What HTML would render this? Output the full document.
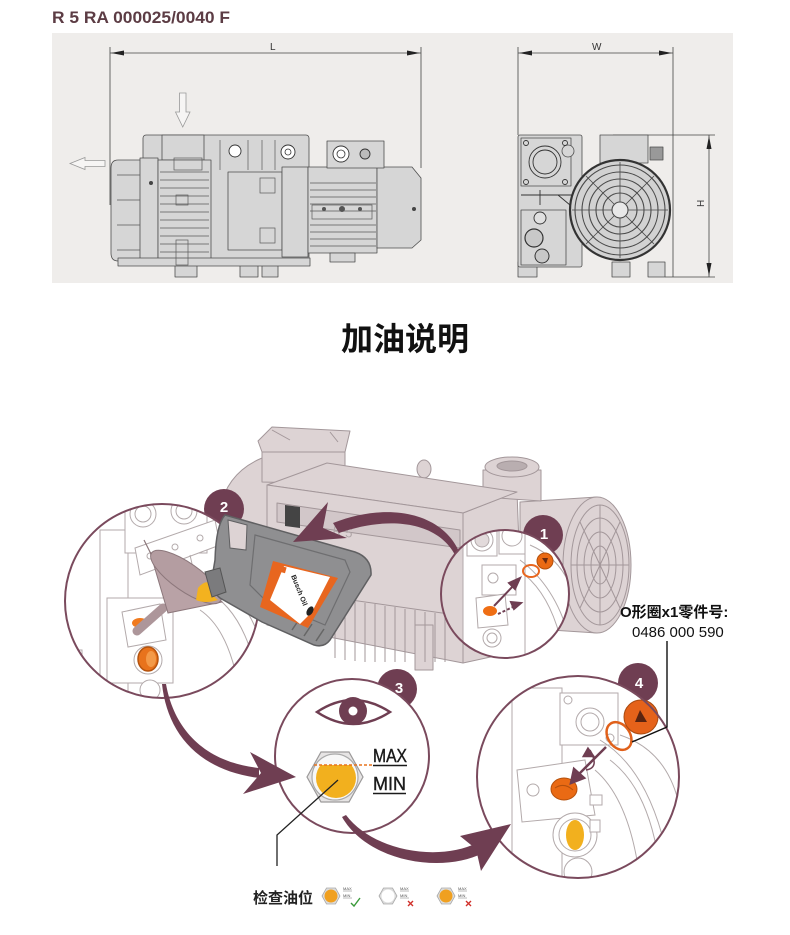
<!DOCTYPE html>
<html><head><meta charset="utf-8">
<style>
html,body{margin:0;padding:0;background:#fff;}
svg{display:block;}
text{font-family:"Liberation Sans","Noto Sans CJK SC",sans-serif;}
</style></head>
<body>
<svg width="790" height="935" viewBox="0 0 790 935" xmlns="http://www.w3.org/2000/svg">
<defs>
 <clipPath id="c2"><circle cx="162" cy="601" r="97"/></clipPath>
 <clipPath id="c1"><circle cx="505" cy="594" r="64"/></clipPath>
 <clipPath id="c3"><circle cx="352" cy="756" r="77"/></clipPath>
 <clipPath id="c4"><circle cx="578" cy="777" r="101"/></clipPath>
 <clipPath id="oilc"><rect x="300" y="765" width="80" height="60"/></clipPath>
</defs>

<!-- ===== TOP SECTION ===== -->
<text x="52" y="23" font-size="16.5" font-weight="bold" fill="#5c3c44" textLength="178" lengthAdjust="spacingAndGlyphs">R 5 RA 000025/0040 F</text>
<rect x="52" y="33" width="681" height="250" fill="#efedeb"/>

<!-- dimension lines -->
<g stroke="#444" stroke-width="0.8" fill="none">
 <line x1="110" y1="47" x2="110" y2="205"/>
 <line x1="421" y1="47" x2="421" y2="168"/>
 <line x1="110" y1="53" x2="421" y2="53"/>
 <line x1="518" y1="47" x2="518" y2="135"/>
 <line x1="673" y1="47" x2="673" y2="277"/>
 <line x1="518" y1="53" x2="673" y2="53"/>
 <line x1="613" y1="135" x2="715" y2="135"/>
 <line x1="665" y1="277" x2="715" y2="277"/>
 <line x1="709" y1="135" x2="709" y2="277"/>
</g>
<g fill="#222">
 <polygon points="111,53 124,50.5 124,55.5"/>
 <polygon points="420,53 407,50.5 407,55.5"/>
 <polygon points="519,53 532,50.5 532,55.5"/>
 <polygon points="672,53 659,50.5 659,55.5"/>
 <polygon points="709,136 706.5,149 711.5,149"/>
 <polygon points="709,276 706.5,263 711.5,263"/>
</g>
<text x="270" y="50" font-size="10" fill="#333">L</text>
<text x="592" y="50" font-size="10" fill="#333">W</text>
<text x="0" y="0" font-size="10" fill="#333" transform="translate(704,207) rotate(-90)">H</text>

<!-- hollow arrows -->
<path d="M179.5 93 H186 V112 H190 L182.75 127 L175.5 112 H179.5 Z" fill="#f6f5f4" stroke="#999" stroke-width="0.8"/>
<path d="M105 160.5 V166.5 H85 V169.5 L70 163.5 L85 157.5 V160.5 Z" fill="#f6f5f4" stroke="#999" stroke-width="0.8"/>

<!-- side view pump -->
<g fill="#d6d6d6" stroke="#4e4e4e" stroke-width="0.8" stroke-linejoin="round">
 <rect x="175" y="262" width="22" height="15"/>
 <rect x="240" y="262" width="18" height="15"/>
 <rect x="262" y="262" width="16" height="15"/>
 <rect x="143" y="135" width="166" height="130" rx="3"/>
 <rect x="162" y="135" width="42" height="25"/>
 <path d="M150 160 H118 Q111 160 111 168 V253 Q111 261 118 261 H150 Z"/>
 <rect x="140" y="158" width="18" height="103"/>
 <rect x="158" y="160" width="53" height="101"/>
 <rect x="228" y="172" width="54" height="78"/>
 <rect x="282" y="167" width="26" height="90"/>
 <rect x="308" y="167" width="69" height="86"/>
 <path d="M377 167 H412 L421 178 V240 L412 248 H377 Z"/>
 <rect x="327" y="141" width="57" height="27"/>
 <rect x="118" y="258" width="192" height="8"/>
 <rect x="330" y="253" width="25" height="9"/>
</g>
<g stroke="#5a5a5a" stroke-width="0.7" fill="none">
 <path d="M160 172 H209 M160 180 H209 M160 188 H209 M160 196 H209 M160 204 H209 M160 212 H209 M160 220 H209 M160 228 H209 M160 236 H209 M160 244 H209 M160 252 H209"/>
 <path d="M220 140 V170 M248 140 V170 M262 140 V170 M275 140 V170"/>
 <path d="M310 183 H376 M310 190 H376 M310 197 H376 M310 204 H376 M310 211 H376 M310 225 H376 M310 232 H376 M310 239 H376 M310 246 H376"/>
 <path d="M117 175 H140 M117 200 H140 M117 225 H140 M117 250 H140"/>
 <rect x="174" y="158" width="28" height="12"/>
 <rect x="176" y="195" width="12" height="10"/>
 <rect x="176" y="240" width="12" height="25"/>
 <rect x="260" y="178" width="15" height="15"/>
 <rect x="260" y="228" width="15" height="15"/>
 <rect x="312" y="205" width="60" height="14"/>
</g>
<g fill="#fff" stroke="#333" stroke-width="0.9">
 <circle cx="235" cy="151" r="6"/>
 <circle cx="288" cy="152" r="7"/>
 <circle cx="341" cy="154" r="8"/>
 <circle cx="365" cy="154" r="5" fill="#bbb"/>
</g>
<circle cx="341" cy="154" r="4" fill="none" stroke="#333" stroke-width="0.8"/>
<circle cx="288" cy="152" r="3" fill="none" stroke="#333" stroke-width="0.8"/>
<circle cx="151" cy="183" r="2" fill="#444"/>
<circle cx="414" cy="209" r="2" fill="#444"/>
<g fill="#555"><circle cx="324" cy="209" r="2"/><circle cx="342" cy="209" r="3"/><circle cx="360" cy="209" r="2"/></g>

<!-- front view pump -->
<g fill="#d6d6d6" stroke="#4e4e4e" stroke-width="0.8" stroke-linejoin="round">
 <rect x="518" y="262" width="19" height="15"/>
 <rect x="612" y="262" width="18" height="15"/>
 <rect x="648" y="262" width="17" height="15"/>
 <rect x="600" y="135" width="48" height="28"/>
 <rect x="650" y="147" width="13" height="13" fill="#999"/>
 <rect x="518" y="135" width="64" height="132" rx="2"/>
 <rect x="521" y="138" width="50" height="48"/>
 <circle cx="568" cy="151" r="6"/>
 <rect x="521" y="210" width="45" height="55"/>
</g>
<g fill="none" stroke="#333" stroke-width="0.9">
 <circle cx="545" cy="162" r="16"/>
 <circle cx="545" cy="162" r="12"/>
 <circle cx="526" cy="143" r="2.5"/><circle cx="565" cy="143" r="2.5"/>
 <circle cx="526" cy="182" r="2.5"/><circle cx="565" cy="182" r="2.5"/>
 <path d="M521 195 H575 M540 190 V205 M558 195 L570 205"/>
</g>
<circle cx="534" cy="238" r="9" fill="#c8c8c8" stroke="#333" stroke-width="1.2"/>
<circle cx="542" cy="256" r="7" fill="#c8c8c8" stroke="#333" stroke-width="1"/>
<circle cx="540" cy="218" r="6" fill="#e0e0e0" stroke="#333" stroke-width="0.9"/>
<circle cx="620" cy="210" r="50" fill="#d2d2d2" stroke="#333" stroke-width="2.2"/>
<g fill="none" stroke="#4a4a4a" stroke-width="1.1">
 <circle cx="620" cy="210" r="45"/>
 <circle cx="620" cy="210" r="38"/>
 <circle cx="620" cy="210" r="31"/>
 <circle cx="620" cy="210" r="24"/>
 <circle cx="620" cy="210" r="17"/>
 <circle cx="620" cy="210" r="8" fill="#e8e8e8"/>
 <path d="M572 210 H612 M628 210 H668 M620 162 V202 M620 218 V258 M586 176 L614 204 M626 216 L654 244 M654 176 L626 204 M614 216 L586 244" stroke-width="0.8"/>
</g>

<!-- ===== TITLE ===== -->
<text x="405" y="350" font-size="32" font-weight="bold" fill="#111" text-anchor="middle" font-family="'Noto Sans CJK SC',sans-serif">加油说明</text>

<!-- ===== BOTTOM PUMP BODY ===== -->
<g fill="#ddd3d4" stroke="#a3979a" stroke-width="1" stroke-linejoin="round">
 <path d="M218 540 Q214 478 262 458 L305 452 L305 540 Z"/>
 <path d="M262 452 L262 482 L345 484 L345 452 Z"/>
 <path d="M258 441 L272 427 L350 431 L345 452 L262 452 Z"/>
 <ellipse cx="424" cy="469" rx="7" ry="9"/>
 <path d="M520 502 L597 497 L597 633 L520 628 Z"/>
 <ellipse cx="597" cy="565" rx="34" ry="68"/>
 <path d="M463 513 L517 492 L523 650 L463 663 Z"/>
 <path d="M483 470 L483 497 L541 501 L541 470 Z"/>
 <ellipse cx="512" cy="467" rx="27" ry="10"/>
 <ellipse cx="512" cy="466" rx="15" ry="5" fill="#b9aeb0"/>
 <path d="M267 485 L327 463 L517 492 L463 513 Z"/>
 <path d="M267 485 L463 513 L463 663 L267 625 Z"/>
 <path d="M277 503 L460 530 L460 548 L277 522 Z" fill="#d2c7c9"/>
 <rect x="415" y="625" width="18" height="45"/>
</g>
<g fill="none" stroke="#a3979a" stroke-width="1">
 <ellipse cx="600" cy="565" rx="29" ry="60"/>
 <ellipse cx="600" cy="565" rx="23" ry="47"/>
 <ellipse cx="600" cy="565" rx="16" ry="33"/>
 <ellipse cx="600" cy="565" rx="9" ry="19"/>
 <path d="M571 565 H629 M600 505 V625 M580 522 L620 608 M620 522 L580 608"/>
 <path d="M335 598 V658 M345 600 V660 M355 601 V661 M365 603 V662 M375 604 V662 M385 606 V662 M395 607 V662 M405 609 V662 M415 610 V662 M425 612 V662 M435 613 V662 M445 615 V662"/>
 <path d="M330 597 L463 616"/>
 <path d="M272 430 L290 440 M330 432 L338 442"/>
</g>
<text x="332" y="535" font-size="13" fill="#b0a6a8" transform="rotate(8 332 535)">R 5</text>
<path d="M285 505 L300 507 L300 528 L285 526 Z" fill="#444"/>

<!-- ===== CIRCLE BADGES (behind circles) ===== -->
<g fill="#6f3e52">
 <circle cx="224" cy="509" r="20"/>
 <circle cx="543" cy="535" r="20"/>
 <circle cx="397" cy="689" r="20"/>
 <circle cx="638" cy="683" r="20"/>
</g>

<!-- ===== CIRCLE 2 ===== -->
<circle cx="162" cy="601" r="97" fill="#fff"/>
<g clip-path="url(#c2)" fill="#fff" stroke="#b3aaab" stroke-width="1">
 <rect x="100" y="530" width="28" height="175"/>
 <rect x="125" y="495" width="82" height="58"/>
 <circle cx="143" cy="514" r="13"/><circle cx="143" cy="514" r="8"/>
 <circle cx="184" cy="511" r="13"/><circle cx="184" cy="511" r="8"/>
 <path d="M135 548 L215 520 L220 545 L140 575 Z"/>
 <circle cx="150" cy="556" r="3"/><circle cx="175" cy="547" r="3"/><circle cx="200" cy="538" r="3"/>
 <rect x="107" y="598" width="66" height="85"/>
 <path d="M122 612 L160 604 L166 640 L128 647 Z"/>
 <circle cx="148" cy="660" r="14"/>
 <circle cx="150" cy="690" r="10"/>
 <rect x="60" y="650" width="22" height="60"/>
 <path d="M205 590 Q245 610 258 680 M212 580 Q255 600 268 670 M200 610 Q230 630 240 695" fill="none"/>
 <path d="M175 560 L183 600 M190 555 L198 590" fill="none"/>
</g>
<ellipse cx="140" cy="623" rx="8" ry="5" fill="#f07a1e"/>
<ellipse cx="148" cy="659" rx="10" ry="12" fill="#e8731c" stroke="#b5540f" stroke-width="1.5"/>
<ellipse cx="151" cy="659" rx="5" ry="8" fill="#f39a48"/>
<circle cx="162" cy="601" r="97" fill="none" stroke="#7a4a5d" stroke-width="2"/>

<!-- funnel -->
<line x1="163" y1="608" x2="137" y2="631" stroke="#ad969a" stroke-width="9" stroke-linecap="round"/>
<path d="M150 552 L222 602 L168 613 Z" fill="#b9a2a6" stroke="#8c777b" stroke-width="1"/>
<ellipse cx="186" cy="577" rx="42" ry="14" transform="rotate(35 186 577)" fill="#b49da1" stroke="#8c777b" stroke-width="1"/>
<path d="M198 588 Q206 578 214 585 Q210 595 218 600 Q205 604 196 600 Z" fill="#f3b21f"/>
<path d="M150 552 L144 540" stroke="#8c777b" stroke-width="1.2"/>

<!-- jug -->
<path d="M225 515 L355 552 Q372 558 371 575 L330 640 Q324 648 314 645 L262 622 L220 598 Q210 590 212 578 L215 560 Q216 525 225 515 Z" fill="#8f8f91" stroke="#606062" stroke-width="1.5"/>
<path d="M228 520 L247 525 L246 550 L230 548 Z" fill="#ddd3d4" stroke="#606062" stroke-width="1"/>
<path d="M205 572 L220 568 L226 592 L212 597 Z" fill="#7b7b7d" stroke="#555" stroke-width="1"/>
<path d="M255 535 L345 560 L350 572 L325 625 L265 600 L250 585 Z" fill="none" stroke="#6e6e70" stroke-width="1.2"/>
<path d="M292 630 L300 618 M304 636 L312 624 M316 641 L324 629" stroke="#666" stroke-width="1.5"/>
<polygon points="273,561 338,578 308,628 260,607" fill="#e8661f"/>
<polygon points="284,566 330,577 312,612 300,624 270,600" fill="#fff"/>
<rect x="277" y="566" width="9" height="6" fill="#e8661f" transform="rotate(16 281 569)"/>
<text x="0" y="0" font-size="7" font-weight="bold" fill="#222" transform="translate(291 576) rotate(68)">Busch Oil</text>
<ellipse cx="310" cy="611" rx="3" ry="5" transform="rotate(30 310 611)" fill="#222"/>

<!-- arrow 1 (tapered) -->
<path d="M464 568 C455 515 394 499 333 523 L339 533 C396 513 449 524 460 568 Z" fill="#6f3e52"/>
<polygon points="293,542 328,502 323,528 347,538" fill="#6f3e52"/>

<!-- ===== CIRCLE 1 ===== -->
<circle cx="505" cy="594" r="64" fill="#fff"/>
<g clip-path="url(#c1)" fill="#fff" stroke="#b3aaab" stroke-width="1">
 <rect x="430" y="520" width="33" height="150" fill="#ddd3d4"/>
 <rect x="463" y="520" width="62" height="150"/>
 <rect x="467" y="524" width="30" height="32"/><circle cx="482" cy="540" r="11"/><circle cx="482" cy="540" r="7" fill="#e2dadb"/>
 <rect x="499" y="522" width="26" height="32"/><circle cx="512" cy="536" r="10"/>
 <rect x="482" y="565" width="34" height="30"/>
 <circle cx="493" cy="578" r="5"/>
 <path d="M476 598 L505 594 L508 625 L478 628 Z"/>
 <circle cx="492" cy="638" r="9"/><circle cx="492" cy="638" r="5"/>
 <path d="M520 560 Q560 590 572 650 M525 575 Q555 600 565 660 M530 545 Q565 560 575 600" fill="none"/>
</g>
<ellipse cx="490" cy="611" rx="7" ry="5" fill="#ef6e14"/>
<ellipse cx="531" cy="571" rx="8" ry="6" fill="none" stroke="#e8661f" stroke-width="2"/>
<circle cx="545" cy="561" r="8" fill="#ea6a14" stroke="#b5500c" stroke-width="1"/>
<path d="M542 558 L548 558 L546 564 Z" fill="#6a2a10"/>
<g stroke="#6f3e52" stroke-width="2" fill="#6f3e52">
 <line x1="494" y1="606" x2="515" y2="584"/>
 <polygon points="520,578 509,583 515,589"/>
 <line x1="498" y1="614" x2="515" y2="606" stroke-dasharray="3 2"/>
 <polygon points="521,603 511,602 514,609"/>
</g>
<circle cx="505" cy="594" r="64" fill="none" stroke="#7a4a5d" stroke-width="2"/>

<!-- ===== CIRCLE 3 ===== -->
<circle cx="352" cy="756" r="77" fill="#fff" stroke="#7a4a5d" stroke-width="2"/>
<path d="M317 712 Q353 688 390 712 Q353 736 317 712 Z" fill="#fff" stroke="#6f3e52" stroke-width="2.5"/>
<circle cx="353" cy="711" r="14" fill="#6f3e52"/>
<circle cx="353" cy="711" r="4.5" fill="#fff"/>
<polygon points="307,777 321,752 349,752 363,777 349,802 321,802" fill="#e6e4e4" stroke="#9c9a9a" stroke-width="1.2"/>
<circle cx="335" cy="777" r="23" fill="#f7f7f7" stroke="#aaa" stroke-width="1.2"/>
<circle cx="336" cy="778" r="20" fill="#f2b01e" clip-path="url(#oilc)"/>
<line x1="314" y1="765" x2="373" y2="765" stroke="#e8731c" stroke-width="1.5" stroke-dasharray="3 2"/>
<text x="373" y="762" font-size="18" fill="#1a1a1a" stroke="#1a1a1a" stroke-width="0.4" textLength="34" lengthAdjust="spacingAndGlyphs">MAX</text>
<line x1="373" y1="765.5" x2="407" y2="765.5" stroke="#1a1a1a" stroke-width="1.6"/>
<text x="373" y="790" font-size="18" fill="#1a1a1a" stroke="#1a1a1a" stroke-width="0.4" textLength="33" lengthAdjust="spacingAndGlyphs">MIN</text>
<line x1="373" y1="793.5" x2="406" y2="793.5" stroke="#1a1a1a" stroke-width="1.6"/>
<polyline points="338,780 277,835 277,866" fill="none" stroke="#222" stroke-width="1.3"/>

<!-- arrow 2 (tapered) -->
<path d="M162 684 C167 731 196 770 259 778 L259 768 C204 762 174 729 166 684 Z" fill="#6f3e52"/>
<polygon points="296,777 250,752 261,773 243,794" fill="#6f3e52"/>

<!-- ===== CIRCLE 4 ===== -->
<circle cx="578" cy="777" r="101" fill="#fff"/>
<g clip-path="url(#c4)" fill="#fff" stroke="#b3aaab" stroke-width="1">
 <rect x="475" y="690" width="37" height="200"/>
 <rect x="512" y="688" width="50" height="190"/>
 <rect x="560" y="693" width="58" height="52"/>
 <circle cx="590" cy="722" r="14"/><circle cx="590" cy="722" r="9"/>
 <circle cx="568" cy="700" r="4"/><circle cx="610" cy="738" r="4"/>
 <path d="M517 770 L585 760 L595 815 L522 822 Z"/>
 <circle cx="533" cy="790" r="6"/>
 <circle cx="575" cy="835" r="22"/><circle cx="575" cy="835" r="16"/>
 <circle cx="578" cy="872" r="14"/>
 <path d="M600 740 Q650 770 668 860 M610 760 Q650 790 660 870 M620 735 Q665 750 678 800 M595 770 Q630 800 640 880" fill="none"/>
 <rect x="590" y="820" width="10" height="12"/>
 <rect x="590" y="795" width="12" height="10"/>
</g>
<ellipse cx="575" cy="835" rx="9" ry="15" fill="#f2b01e"/>
<ellipse cx="564" cy="789" rx="13" ry="11" fill="#ea6a14" stroke="#b5500c" stroke-width="1"/>
<path d="M555 788 Q564 782 573 790" stroke="#b5500c" fill="none"/>
<ellipse cx="619" cy="736" rx="11" ry="15" transform="rotate(-35 619 736)" fill="none" stroke="#e0601a" stroke-width="2.5"/>
<circle cx="641" cy="717" r="17" fill="#e5621a" stroke="#a84a10" stroke-width="1"/>
<path d="M635 722 L640 710 L647 722 Z" fill="#5a2410"/>
<g stroke="#6f3e52" stroke-width="2.5" fill="#6f3e52">
 <line x1="606" y1="747" x2="578" y2="775"/>
 <polygon points="571,783 574,769 584,778"/>
 <path d="M590 750 Q600 768 586 770" fill="none" stroke-width="1.5"/>
 <polygon points="588,749 584,756 593,756"/>
</g>
<circle cx="578" cy="777" r="101" fill="none" stroke="#7a4a5d" stroke-width="2"/>

<!-- arrow 3 (tapered) -->
<path d="M342 817 C368 862 442 874 483 853 L477 843 C438 862 373 851 346 815 Z" fill="#6f3e52"/>
<polygon points="511,824 460,836 476,849 481,871" fill="#6f3e52"/>

<!-- badge numbers -->
<g fill="#fff" font-size="15" font-weight="bold" text-anchor="middle">
 <text x="224" y="512">2</text>
 <text x="544" y="539">1</text>
 <text x="399" y="693">3</text>
 <text x="639" y="688">4</text>
</g>

<!-- O-ring label -->
<text x="620" y="617" font-size="15" font-weight="bold" fill="#111" font-family="'Liberation Serif','Noto Serif CJK SC',serif">O形圈x1零件号:</text>
<text x="632" y="637" font-size="15" fill="#111">0486 000 590</text>
<polyline points="667,641 667,727 632,742" fill="none" stroke="#111" stroke-width="1.4"/>

<!-- bottom legend -->
<text x="253" y="903" font-size="15" font-weight="bold" fill="#222" font-family="'Noto Sans CJK SC',sans-serif">检查油位</text>
<g>
 <polygon points="322,896 326.5,888 335.5,888 340,896 335.5,904 326.5,904" fill="#dcdcdc" stroke="#aaa" stroke-width="0.8"/>
 <circle cx="331" cy="896" r="6.5" fill="#f0a020"/>
 <polygon points="379,896 383.5,888 392.5,888 397,896 392.5,904 383.5,904" fill="#dcdcdc" stroke="#aaa" stroke-width="0.8"/>
 <circle cx="388" cy="896" r="6.5" fill="#fff"/>
 <polygon points="437,896 441.5,888 450.5,888 455,896 450.5,904 441.5,904" fill="#dcdcdc" stroke="#aaa" stroke-width="0.8"/>
 <circle cx="446" cy="896" r="6.5" fill="#f0a020"/>
 <g font-size="4" fill="#555">
  <text x="343" y="890">MAX</text><text x="343" y="897">MIN</text>
  <text x="400" y="890">MAX</text><text x="400" y="897">MIN</text>
  <text x="458" y="890">MAX</text><text x="458" y="897">MIN</text>
 </g>
 <g stroke="#777" stroke-width="0.5">
  <line x1="343" y1="891" x2="352" y2="891"/><line x1="343" y1="898" x2="352" y2="898"/>
  <line x1="400" y1="891" x2="409" y2="891"/><line x1="400" y1="898" x2="409" y2="898"/>
  <line x1="458" y1="891" x2="467" y2="891"/><line x1="458" y1="898" x2="467" y2="898"/>
 </g>
 <path d="M351 903 L354 906 L360 898" fill="none" stroke="#3a9a3a" stroke-width="1.4"/>
 <path d="M408 901 L413 906 M413 901 L408 906" stroke="#d0302a" stroke-width="1.4"/>
 <path d="M466 901 L471 906 M471 901 L466 906" stroke="#d0302a" stroke-width="1.4"/>
</g>
</svg>
</body></html>
